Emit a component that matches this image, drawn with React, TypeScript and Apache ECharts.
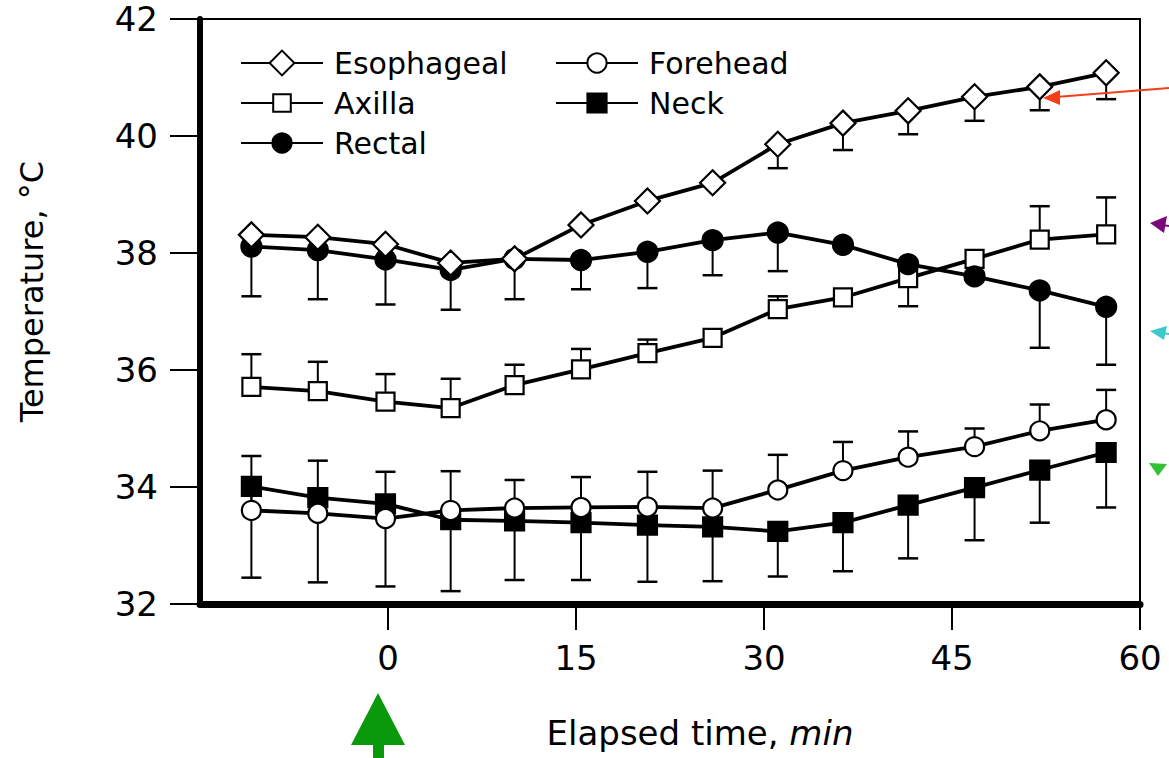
import React, { useEffect, useRef } from 'react';
import * as echarts from 'echarts';

// Elapsed time (min) of each measurement
const times = [-10.9, -5.6, -0.2, 5.0, 10.1, 15.4, 20.7, 25.9, 31.1, 36.3, 41.5, 46.8, 52.0, 57.3];

// Mean temperatures (°C)
const esophageal = [38.31, 38.27, 38.15, 37.83, 37.9, 38.48, 38.89, 39.2, 39.86, 40.22, 40.43, 40.67, 40.84, 41.08];
const axilla = [35.71, 35.64, 35.46, 35.35, 35.74, 36.01, 36.29, 36.55, 37.04, 37.24, 37.57, 37.9, 38.23, 38.32];
const rectal = [38.11, 38.05, 37.89, 37.71, 37.9, 37.88, 38.02, 38.22, 38.35, 38.14, 37.81, 37.6, 37.36, 37.08];
const forehead = [33.6, 33.55, 33.46, 33.6, 33.64, 33.65, 33.66, 33.64, 33.95, 34.28, 34.51, 34.69, 34.96, 35.15];
const neck = [34.01, 33.82, 33.71, 33.44, 33.42, 33.39, 33.35, 33.32, 33.24, 33.39, 33.69, 33.99, 34.29, 34.59];

// Error bar ends (°C); null = no bar drawn
const esophagealLow = [null, null, null, null, null, null, null, null, 39.45, 39.76, 40.03, 40.26, 40.44, 40.63];
const axillaHigh = [36.27, 36.14, 35.93, 35.85, 36.09, 36.36, 36.52, null, 37.26, null, null, null, 38.8, 38.95];
const rectalLow = [37.26, 37.21, 37.12, 37.03, 37.21, 37.38, 37.4, 37.62, 37.69, null, 37.09, null, 36.38, 36.09];
const foreheadHigh = [34.53, 34.45, 34.26, 34.27, 34.12, 34.17, 34.26, 34.28, 34.55, 34.77, 34.95, 35.0, 35.41, 35.66];
const neckLow = [32.45, 32.37, 32.3, 32.22, 32.41, 32.41, 32.38, 32.39, 32.47, 32.56, 32.78, 33.09, 33.39, 33.65];

// Axis ticks
const xTickValues = [0, 15, 30, 45, 60];
const yMin = 32;
const yMax = 42;
const yStep = 2;

const FONT = 'DejaVu Sans';

function pairs(vals: number[]) {
  return times.map((t, i) => [t, vals[i]]);
}
function bars(vals: number[], ends: (number | null)[]) {
  const out: number[][] = [];
  times.forEach((t, i) => {
    const e = ends[i];
    if (e !== null && e !== undefined) out.push([t, vals[i], e]);
  });
  return out;
}

function errorSeries(name: string, vals: number[], ends: (number | null)[]) {
  return {
    type: 'custom',
    name,
    z: 1,
    silent: true,
    encode: { x: 0, y: [1, 2] },
    data: bars(vals, ends),
    renderItem: (params: any, api: any) => {
      const x = api.value(0);
      const a = api.coord([x, api.value(1)]);
      const b = api.coord([x, api.value(2)]);
      return {
        type: 'group',
        children: [
          { type: 'line', shape: { x1: a[0], y1: a[1], x2: b[0], y2: b[1] }, style: { stroke: '#000', lineWidth: 2 } },
          { type: 'line', shape: { x1: b[0] - 10, y1: b[1], x2: b[0] + 10, y2: b[1] }, style: { stroke: '#000', lineWidth: 2.5 } },
        ],
      };
    },
  };
}

function lineSeries(name: string, vals: number[], symbol: string, size: number, filled: boolean, z: number) {
  return {
    type: 'line',
    name,
    z,
    data: pairs(vals),
    symbol,
    symbolSize: size,
    showSymbol: true,
    showAllSymbol: true,
    lineStyle: { color: '#000', width: 3.8 },
    itemStyle: { color: filled ? '#000' : '#fff', borderColor: '#000', borderWidth: 2.2 },
    emphasis: { disabled: true },
  };
}

function legendFor(name: string, left: number, centerY: number, itemHeight: number) {
  return {
    data: [name],
    left,
    top: centerY - 17,
    padding: 0,
    itemWidth: 82,
    itemHeight,
    selectedMode: false,
    textStyle: { fontFamily: FONT, fontSize: 30, color: '#000', lineHeight: 34, padding: [0, 0, 0, 6] },
  };
}

export default function App() {
  const ref = useRef<HTMLDivElement>(null);
  useEffect(() => {
    if (!ref.current) return;
    const chart = echarts.init(ref.current, undefined, { renderer: 'svg' });
    chart.setOption({
      animation: false,
      backgroundColor: '#fff',
      grid: {
        left: 200,
        right: 29,
        top: 19,
        bottom: 154,
        show: true,
        borderColor: '#000',
        borderWidth: 2,
        backgroundColor: 'transparent',
        outerBoundsMode: 'none',
      },
      xAxis: {
        type: 'value',
        min: -15,
        max: 60,
        interval: 15,
        name: 'Elapsed time, {i|min}',
        nameLocation: 'middle',
        nameGap: 112,
        nameTextStyle: {
          fontFamily: FONT,
          fontSize: 34,
          color: '#000',
          padding: [0, 0, 0, 60],
          rich: { i: { fontStyle: 'italic', fontFamily: FONT, fontSize: 34, color: '#000' } },
        },
        axisLine: { show: true, onZero: false, lineStyle: { color: '#000', width: 7 } },
        axisTick: { show: true, length: 26, customValues: xTickValues, lineStyle: { color: '#000', width: 2 } },
        axisLabel: {
          customValues: xTickValues,
          margin: 37,
          fontFamily: FONT,
          fontSize: 34,
          color: '#000',
        },
        splitLine: { show: false },
      },
      yAxis: {
        type: 'value',
        min: yMin,
        max: yMax,
        interval: yStep,
        name: 'Temperature, °C',
        nameLocation: 'middle',
        nameGap: 152,
        nameTextStyle: { fontFamily: FONT, fontSize: 32, color: '#000', padding: [0, 0, 0, 40] },
        axisLine: { show: true, onZero: false, lineStyle: { color: '#000', width: 6 } },
        axisTick: { show: true, length: 30, lineStyle: { color: '#000', width: 2 } },
        axisLabel: { margin: 42, fontFamily: FONT, fontSize: 34, color: '#000' },
        splitLine: { show: false },
      },
      legend: [
        legendFor('Esophageal', 240, 63, 31),
        legendFor('Axilla', 240, 103, 22),
        legendFor('Rectal', 240, 143, 24),
        legendFor('Forehead', 555, 63, 24),
        legendFor('Neck', 555, 103, 24),
      ],
      series: [
        errorSeries('Neck SD', neck, neckLow),
        errorSeries('Forehead SD', forehead, foreheadHigh),
        errorSeries('Axilla SD', axilla, axillaHigh),
        errorSeries('Rectal SD', rectal, rectalLow),
        errorSeries('Esophageal SD', esophageal, esophagealLow),
        lineSeries('Neck', neck, 'rect', 19, true, 3),
        lineSeries('Forehead', forehead, 'circle', 19, false, 4),
        lineSeries('Axilla', axilla, 'rect', 18, false, 5),
        lineSeries('Rectal', rectal, 'circle', 20, true, 6),
        lineSeries('Esophageal', esophageal, 'diamond', 25, false, 7),
      ],
      graphic: [
        // red annotation arrow
        { type: 'line', z: 100, shape: { x1: 1169, y1: 88, x2: 1056, y2: 97 }, style: { stroke: '#f0401a', lineWidth: 2 } },
        { type: 'polygon', z: 100, shape: { points: [[1043, 98], [1060, 90], [1060, 105]] }, style: { fill: '#f0401a' } },
        // purple arrow head
        { type: 'polygon', z: 100, shape: { points: [[1150, 223], [1167, 216], [1164, 233]] }, style: { fill: '#7a0a7a' } },
        { type: 'line', z: 100, shape: { x1: 1162, y1: 225, x2: 1169, y2: 226 }, style: { stroke: '#7a0a7a', lineWidth: 2 } },
        // cyan arrow head
        { type: 'polygon', z: 100, shape: { points: [[1150, 331], [1167, 326], [1164, 340]] }, style: { fill: '#3cc9c9' } },
        { type: 'line', z: 100, shape: { x1: 1162, y1: 333, x2: 1169, y2: 334 }, style: { stroke: '#3cc9c9', lineWidth: 2 } },
        // green arrow head
        { type: 'polygon', z: 100, shape: { points: [[1149, 463], [1167, 464], [1158, 476]] }, style: { fill: '#33c233' } },
        // bottom green arrow
        { type: 'polygon', z: 100, shape: { points: [[378, 693], [351, 745], [405, 745]] }, style: { fill: '#0a990a' } },
        { type: 'rect', z: 100, shape: { x: 373, y: 740, width: 11, height: 18 }, style: { fill: '#0a990a' } },
      ],
    });
    return () => chart.dispose();
  }, []);
  return <div ref={ref} style={{ position: 'absolute', left: 0, top: 0, width: 1169, height: 758 }} />;
}
